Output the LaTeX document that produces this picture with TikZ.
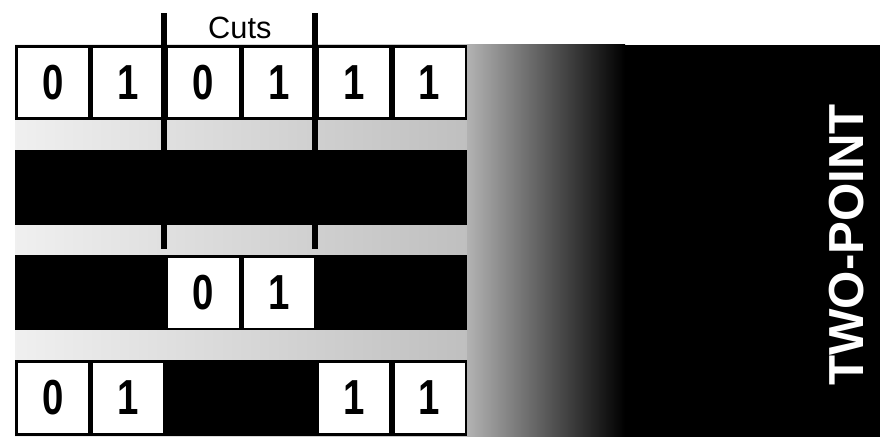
\documentclass[tikz,border=0pt]{standalone}
\usepackage{fontspec}
\setmainfont{Liberation Sans}
\usepackage{graphicx}
\usetikzlibrary{matrix,positioning,calc}
\newcommand{\bit}[1]{\scalebox{.78}[1]{\bfseries #1}}

\begin{document}
\begin{tikzpicture}[x=0.2mm,y=0.2mm,
    cell/.style={draw, fill=white, line width=1.5pt, minimum width=14.55mm, minimum height=14.5mm,
      inner sep=0pt, outer sep=0pt, anchor=center, font=\fontsize{28}{28}\selectfont},
    hid/.style={fill=black},
    cut/.style={line width=1.2mm}]
  \useasboundingbox (0,0) rectangle (884,438);
  \shade[left color=gray!12, right color=gray!50] (15,1) rectangle (467,393);
  \shade[left color=gray!60, right color=black] (467,1) rectangle (625,393);
  \fill[black] (625,1) rectangle (880,393);
  \matrix (chrom) [matrix of nodes, nodes={cell}, column sep=0pt, row sep=6mm,
    inner sep=0pt, outer sep=0pt, anchor=north west] at (15,393) {
    \bit0   & \bit1   & \bit0   & \bit1   & \bit1   & \bit1   \\
    |[hid]| & |[hid]| & |[hid]| & |[hid]| & |[hid]| & |[hid]| \\
    |[hid]| & |[hid]| & \bit0   & \bit1   & |[hid]| & |[hid]| \\
    \bit0   & \bit1   & |[hid]| & |[hid]| & \bit1   & \bit1   \\
  };
  \draw[cut] ($(chrom-1-2.north east)+(0,33)$) -- ($(chrom-2-2.south east)+(0,-25)$);
  \draw[cut] ($(chrom-1-4.north east)+(0,33)$) -- ($(chrom-2-4.south east)+(0,-25)$);
  \node[font=\fontsize{17.5}{18}\selectfont] (cuts) at ($(chrom-1-3.north east)+(0,18)$) {Cuts};
  \node[rotate=90, text=white, font=\fontsize{28}{28}\selectfont\bfseries] (name) at (847,193) {TWO-POINT};
\end{tikzpicture}
\end{document}
